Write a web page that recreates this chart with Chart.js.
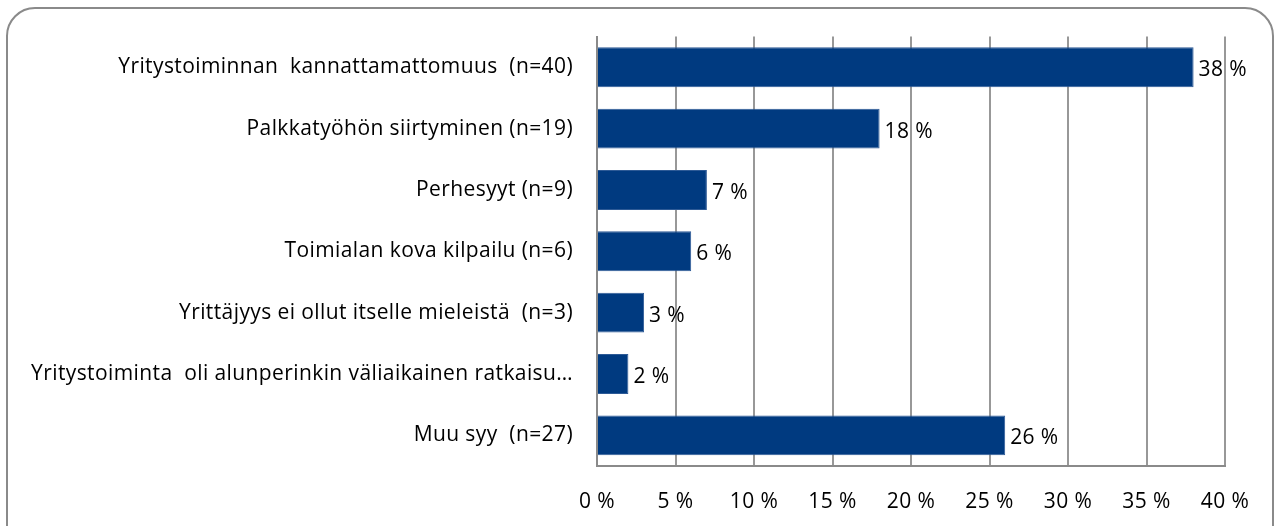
<!DOCTYPE html>
<html>
<head>
<meta charset="utf-8">
<script src="https://cdn.jsdelivr.net/npm/chart.js@4.4.0/dist/chart.umd.min.js"></script>
<style>
  html, body { margin: 0; padding: 0; background: #fff; }
  #wrap { width: 1280px; height: 526px; }
</style>
</head>
<body>
<div id="wrap"><canvas id="chart" width="1280" height="526"></canvas></div>
<script>
const categories = [
  'Yritystoiminnan  kannattamattomuus  (n=40)',
  'Palkkatyöhön siirtyminen (n=19)',
  'Perhesyyt (n=9)',
  'Toimialan kova kilpailu (n=6)',
  'Yrittäjyys ei ollut itselle mieleistä  (n=3)',
  'Yritystoiminta  oli alunperinkin väliaikainen ratkaisu…',
  'Muu syy  (n=27)'
];
const shares = [38, 18, 7, 6, 3, 2, 26];
const xTicks = [0, 5, 10, 15, 20, 25, 30, 35, 40];

const FONT = 'Open Sans';

// rounded frame around the whole chart, plus a little letter spacing for the texts
const framePlugin = {
  id: 'frame',
  beforeDraw(chart) {
    const ctx = chart.ctx;
    ctx.save();
    ctx.strokeStyle = '#8a8a8a';
    ctx.lineWidth = 2;
    ctx.beginPath();
    ctx.roundRect(7, 8, 1266, 560, 28);
    ctx.stroke();
    ctx.restore();
    ctx.letterSpacing = '0.4px';
  }
};

// percentage labels after each bar
const valueLabels = {
  id: 'valueLabels',
  afterDatasetsDraw(chart) {
    const ctx = chart.ctx;
    const meta = chart.getDatasetMeta(0);
    ctx.save();
    ctx.font = '21px "' + FONT + '"';
    ctx.fillStyle = '#000';
    ctx.textBaseline = 'middle';
    ctx.textAlign = 'left';
    meta.data.forEach((bar, i) => {
      ctx.fillText(shares[i] + ' %', bar.x + 5, bar.y + 3);
    });
    ctx.restore();
  }
};

new Chart(document.getElementById('chart'), {
  type: 'bar',
  data: {
    labels: categories,
    datasets: [{
      data: shares,
      backgroundColor: '#003a80',
      borderColor: '#2d5a96',
      borderWidth: 1,
      barPercentage: 0.65,
      categoryPercentage: 1
    }]
  },
  options: {
    indexAxis: 'y',
    responsive: false,
    animation: false,
    layout: { padding: { left: 10, right: 55, top: 36, bottom: 0 } },
    plugins: {
      legend: { display: false },
      tooltip: { enabled: false }
    },
    scales: {
      x: {
        min: 0,
        max: 40,
        afterBuildTicks(scale) {
          scale.ticks = xTicks.map(v => ({ value: v }));
        },
        afterFit(scale) { scale.height = 60; },
        grid: { color: '#989898', lineWidth: 2, drawTicks: false },
        border: { display: true, color: '#8a8a8a', width: 2 },
        ticks: {
          padding: 23,
          color: '#000',
          font: { family: FONT, size: 21 },
          callback: v => v + ' %'
        }
      },
      y: {
        afterFit(scale) { scale.width = 587; },
        grid: { display: false, drawTicks: false },
        border: { display: true, color: '#8a8a8a', width: 2 },
        ticks: {
          padding: 24,
          color: '#000',
          font: { family: FONT, size: 21 }
        }
      }
    }
  },
  plugins: [framePlugin, valueLabels]
});
</script>
</body>
</html>
